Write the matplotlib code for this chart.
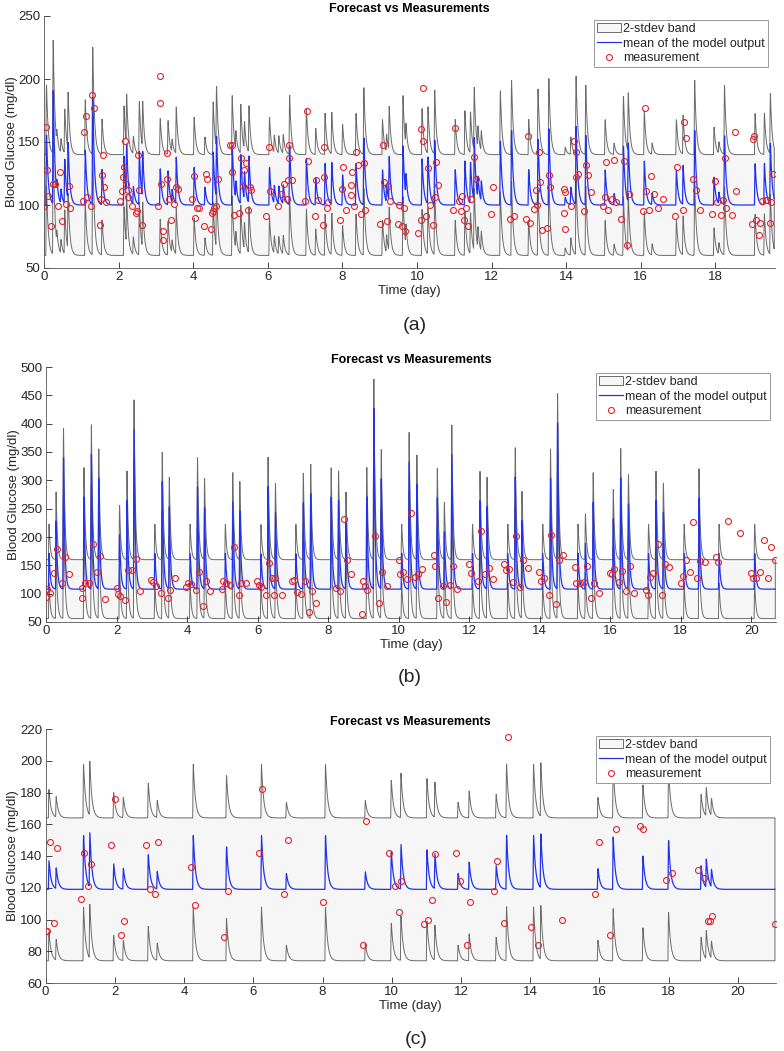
import numpy as np
import matplotlib
matplotlib.use('Agg')
import matplotlib.pyplot as plt
from matplotlib.patches import Patch
from matplotlib.lines import Line2D

plt.rcParams['font.family'] = ['Liberation Sans', 'DejaVu Sans']

# ---------------- Panel (a) data ----------------
a_meal_t = [0.05, 0.23, 0.33, 0.44, 0.54, 0.63, 1.09, 1.29, 1.54, 2.13, 2.2, 2.38, 2.54, 2.63,
            3.1, 3.31, 3.42, 3.53, 4.01, 4.3, 4.52, 4.61, 5.03, 5.13, 5.26, 5.36, 5.48,
            6.03, 6.16, 6.28, 6.4, 6.57, 7.02, 7.27, 7.52, 7.7, 7.99, 8.35, 8.56,
            9.06, 9.17, 9.24, 9.61, 9.69, 10.12, 10.28, 10.46, 11.01, 11.27, 11.42, 11.52,
            11.62, 11.71, 12.22, 12.52, 12.98, 13.23, 13.52, 13.96, 14.11, 14.25, 14.51,
            15.03, 15.27, 15.52, 15.65, 16.08, 16.29, 16.94, 17.12, 17.43, 17.95, 18.08,
            18.23, 19.05, 19.3, 19.46]
a_meal_peak = [156, 190, 110, 111, 135, 145, 144, 185, 128, 139, 140, 114, 142, 137,
               129, 127, 110, 137, 130, 114, 142, 149, 147, 114, 139, 122, 137,
               130, 114, 114, 115, 147, 137, 121, 133, 133, 124, 133, 153,
               128, 114, 135, 147, 117, 137, 137, 151, 128, 135, 133, 150,
               117, 116, 151, 159, 128, 152, 161, 106, 114, 162, 155,
               128, 109, 147, 147, 135, 109, 128, 131, 159, 122, 109,
               155, 133, 133, 148]
a_mean_base = 100
a_band_offset = 40
a_tmax = 19.58
a_meas_t = [0.0, 0.05, 0.07, 0.12, 0.2, 0.25, 0.29, 0.38, 0.44, 0.47, 0.6, 0.67, 0.71,
            1.05, 1.08, 1.12, 1.15, 1.25, 1.3, 1.34, 1.49, 1.53, 1.55, 1.57, 1.61, 1.66,
            2.03, 2.08, 2.12, 2.15, 2.17, 2.2, 2.26, 2.26, 2.35, 2.46, 2.5, 2.53, 2.56, 2.62,
            3.06, 3.12, 3.12, 3.15, 3.2, 3.2, 3.29, 3.29, 3.36, 3.4, 3.49, 3.54, 3.58,
            3.98, 4.01, 4.06, 4.1, 4.15, 4.28, 4.34, 4.36, 4.48, 4.5, 4.54, 4.56, 4.61, 4.67,
            5.0, 5.04, 5.04, 5.09, 5.22, 5.27, 5.33, 5.37, 5.42, 5.47, 5.53, 5.55,
            5.96, 6.03, 6.05, 6.27, 6.35, 6.43, 6.51, 6.54, 6.58, 6.58, 6.64,
            6.99, 7.05, 7.08, 7.26, 7.29, 7.34, 7.49, 7.51, 7.52, 7.58, 7.61,
            7.94, 7.99, 8.02, 8.09, 8.23, 8.24, 8.27, 8.3, 8.36, 8.41, 8.5, 8.57, 8.6,
            9.01, 9.08, 9.11, 9.2, 9.22, 9.27, 9.48, 9.53, 9.59, 9.65, 9.68,
            10.04, 10.1, 10.12, 10.15, 10.17, 10.23, 10.3, 10.35, 10.44, 10.48, 10.52, 10.57,
            10.97, 11.01, 11.12, 11.17, 11.22, 11.27, 11.31, 11.38, 11.46, 11.53, 11.58,
            11.98, 12.03, 12.49, 12.6, 12.93, 12.98, 13.04, 13.14, 13.18, 13.21, 13.26, 13.29,
            13.36, 13.48, 13.53, 13.57, 13.93, 13.93, 13.97, 13.98, 14.12, 14.2, 14.26, 14.27,
            14.31, 14.48, 14.54, 14.58, 14.67,
            15.0, 15.03, 15.07, 15.11, 15.22, 15.28, 15.34, 15.47, 15.56, 15.63, 15.69,
            16.05, 16.11, 16.14, 16.23, 16.28, 16.35, 16.47, 16.61, 16.92, 16.97,
            17.12, 17.17, 17.21, 17.4, 17.49, 17.58, 17.92, 17.99, 18.04, 18.16, 18.2,
            18.25, 18.29, 18.46, 18.52, 18.56, 18.98, 19.02, 19.04, 19.08, 19.17, 19.2,
            19.26, 19.35, 19.39, 19.46, 19.5, 19.55]
a_meas_y = [99, 162, 128, 107, 83, 117, 117, 99, 126, 87, 101, 115, 98,
            103, 158, 171, 106, 99, 187, 177, 84, 105, 124, 140, 114, 102,
            103, 111, 122, 130, 151, 117, 112, 106, 99, 94, 95, 140, 112, 84,
            99, 202, 181, 117, 79, 72, 141, 121, 105, 88, 101, 114, 113,
            105, 123, 90, 98, 98, 83, 125, 121, 81, 94, 95, 98, 99, 121,
            148, 148, 126, 92, 94, 137, 115, 128, 133, 96, 114, 112,
            91, 146, 111, 99, 109, 117, 105, 120, 148, 137, 120,
            103, 175, 135, 91, 120, 104, 84, 122, 146, 98, 102,
            88, 113, 130, 96, 108, 116, 126, 99, 142, 132, 93, 133, 96,
            85, 148, 118, 87, 115, 103, 85, 100, 83, 98, 79,
            78, 88, 160, 193, 151, 91, 129, 100, 84, 106, 134, 116,
            96, 161, 103, 95, 107, 88, 98, 83, 105, 138, 121,
            93, 114, 89, 91, 89, 155, 86, 97, 112, 100, 142, 118,
            80, 82, 124, 114, 113, 94, 81, 110, 99, 151, 142, 122,
            125, 95, 132, 124, 110,
            99, 106, 134, 96, 105, 136, 102, 89, 135, 68, 109,
            95, 177, 111, 96, 123, 109, 98, 105, 91, 130,
            96, 166, 153, 121, 112, 96, 93, 119, 102, 92, 104,
            137, 98, 92, 158, 111, 85, 152, 155, 88, 76, 86,
            103, 104, 104, 86, 102, 125]

# ---------------- Panel (b) data ----------------
b_meal_t = [0.07, 0.27, 0.48, 1.06, 1.27, 1.48, 2.07, 2.28, 2.48, 3.07, 3.28, 3.48,
            4.07, 4.28, 4.48, 5.07, 5.28, 5.48, 6.08, 6.28, 6.49, 7.07, 7.28, 7.49,
            8.07, 8.28, 8.49, 9.08, 9.28, 9.49, 10.07, 10.28, 10.5, 11.08, 11.28, 11.49,
            12.08, 12.29, 12.49, 13.08, 13.29, 13.48, 14.07, 14.29, 14.49, 15.07, 15.28, 15.5,
            16.07, 16.28, 16.5, 17.07, 17.28, 17.49, 18.08, 18.5, 19.07, 20.08]
b_meal_peak = [171, 228, 342, 271, 346, 304, 205, 266, 390, 171, 300, 253,
               171, 289, 253, 171, 262, 247, 171, 289, 243, 171, 262, 276,
               271, 266, 228, 271, 428, 304, 171, 333, 293, 271, 209, 346,
               171, 266, 253, 171, 307, 228, 171, 304, 404, 171, 189, 262,
               234, 304, 258, 171, 266, 243, 171, 271, 171, 171]
b_mean_base = 108
b_band_offset = 52
b_tmax = 20.68
b_meas_t = [0.0, 0.02, 0.11, 0.24, 0.32, 0.45, 0.53, 0.66, 1.01, 1.03, 1.1, 1.23, 1.32, 1.45,
            1.53, 1.66, 2.0, 2.03, 2.1, 2.24, 2.33, 2.45, 2.54, 2.66, 2.98, 3.04, 3.13, 3.25,
            3.45, 3.53, 3.66, 3.98, 4.03, 4.12, 4.25, 4.33, 4.45, 4.53, 4.66, 5.0, 5.02,
            5.1, 5.21, 5.33, 5.47, 5.54, 5.66, 5.99, 6.03, 6.11, 6.25, 6.33, 6.41, 6.47, 6.5,
            6.69, 6.98, 7.04, 7.12, 7.24, 7.34, 7.46, 7.53, 7.67, 8.23, 8.33, 8.45, 8.54,
            8.66, 8.97, 8.99, 9.04, 9.11, 9.33, 9.45, 9.54, 9.67, 10.0, 10.03, 10.12,
            10.24, 10.34, 10.45, 10.55, 10.67, 11.0, 11.04, 11.11, 11.25, 11.33, 11.45,
            11.54, 11.66, 11.99, 12.04, 12.25, 12.34, 12.45, 12.55, 12.67, 12.98, 13.03,
            13.13, 13.24, 13.33, 13.45, 13.54, 13.68, 13.99, 14.04, 14.13, 14.25, 14.33,
            14.47, 14.55, 14.67, 15.0, 15.02, 15.13, 15.25, 15.34, 15.44, 15.55, 15.67,
            15.99, 16.04, 16.12, 16.25, 16.34, 16.46, 16.57, 16.68, 17.02, 17.06, 17.14,
            17.2, 17.35, 17.47, 17.55, 17.68, 18.0, 18.05, 18.14, 18.26, 18.34, 18.46,
            18.55, 18.69, 19.0, 19.05, 19.34, 19.68, 20.0, 20.04, 20.14, 20.25, 20.35,
            20.48, 20.56, 20.67]
b_meas_y = [94, 109, 102, 136, 179, 119, 165, 135, 110, 92, 119, 119, 188, 139,
            166, 91, 110, 100, 96, 89, 141, 141, 161, 104, 124, 121, 113, 101,
            93, 107, 127, 112, 118, 117, 106, 139, 78, 122, 105, 108, 122,
            119, 116, 182, 97, 119, 119, 122, 115, 112, 97, 154, 127, 97, 127,
            97, 122, 124, 103, 100, 122, 68, 104, 84, 110, 104, 231, 159,
            135, 64, 122, 114, 107, 202, 84, 139, 114, 160, 135, 138,
            125, 242, 129, 134, 144, 169, 149, 93, 113, 86, 116,
            148, 108, 153, 137, 122, 211, 134, 146, 125, 152, 141,
            144, 121, 202, 112, 159, 145, 138, 122, 128, 97, 204,
            82, 159, 168, 147, 119, 119, 121, 149, 92, 118, 102,
            137, 135, 144, 121, 140, 105, 149, 102, 106, 97, 129,
            137, 187, 98, 153, 147, 118, 131, 159, 138, 227, 127,
            157, 155, 164, 155, 228, 207, 137, 128, 127, 138, 194,
            127, 182, 159]

# ---------------- Panel (c) data ----------------
c_meal_t = [0.08, 0.29, 1.08, 1.26, 1.95, 2.23, 2.95, 3.21, 4.25, 5.21, 6.22, 6.94,
            8.07, 9.22, 9.97, 10.25, 11.0, 11.23, 11.9, 12.22, 13.0, 13.3, 14.08, 14.29,
            15.94, 16.38, 17.24, 17.98, 18.92, 19.07, 19.22]
c_meal_peak = [137, 132, 153, 153, 135, 132, 141, 130, 153, 146, 153, 129,
               153, 130, 143, 147, 144, 141, 129, 136, 134, 153, 153, 153,
               132, 152, 140, 150, 134, 137, 130]
c_mean_base = 119
c_band_offset = 45
c_tmax = 21.07
c_meas_t = [0.0, 0.03, 0.14, 0.24, 0.32, 1.01, 1.11, 1.22, 1.31, 1.9, 2.0, 2.17, 2.26,
            2.89, 3.01, 3.15, 3.25, 4.19, 4.31, 5.16, 5.28, 6.16, 6.24, 6.89, 6.99, 8.01,
            9.16, 9.26, 9.91, 10.08, 10.2, 10.28, 10.94, 11.04, 11.17, 11.26, 11.85, 11.98,
            12.17, 12.27, 12.94, 13.03, 13.25, 13.35, 14.02, 14.23, 14.92, 15.88, 15.98,
            16.31, 16.47, 17.18, 17.27, 17.91, 18.1, 18.86, 19.02, 19.14, 19.18, 19.26, 21.06]
c_meas_y = [93, 93, 149, 98, 145, 113, 142, 121, 135, 147, 176, 90, 99,
            147, 119, 116, 149, 133, 109, 89, 118, 142, 182, 116, 150, 111,
            84, 162, 142, 121, 105, 124, 97, 100, 112, 141, 142, 124,
            84, 111, 118, 137, 98, 215, 95, 84, 100, 116, 149,
            90, 157, 159, 157, 125, 129, 131, 126, 99, 99, 102, 97]

TXT = '#262626'
BAND_FACE = '#f6f6f6'
BAND_EDGE = '#6b6b6b'
MEAN_C = '#2233ee'
MEAS_C = '#e0262b'


def glucose_curve(t, meal_t, meal_peak, base, rise=0.018, tau=0.045):
    y = np.full_like(t, float(base))
    for tm, pk in zip(meal_t, meal_peak):
        s = t - tm
        amp = pk - base
        g = np.where(s < 0, 0.0,
                     np.where(s < rise, np.sin(0.5 * np.pi * s / rise),
                              np.exp(-(s - rise) / tau)))
        y += amp * g
    return y


def panel(ax, meal_t, meal_peak, base, off, tmax, mt, my, xlim, ylim, yticks, xticks,
          legend_anchor, tau):
    t = np.linspace(0, tmax, 8000)
    mean = glucose_curve(t, meal_t, meal_peak, base, tau=tau)
    up = mean + off
    lo = mean - off
    ax.fill(np.r_[t, t[::-1]], np.r_[up, lo[::-1]], facecolor=BAND_FACE,
            edgecolor=BAND_EDGE, linewidth=0.7, zorder=1)
    ax.plot(t, mean, color=MEAN_C, lw=0.9, zorder=2)
    ax.plot(mt, my, 'o', ms=4.3, mfc='none', mec=MEAS_C, mew=0.8, zorder=3)
    ax.set_xlim(*xlim)
    ax.set_ylim(*ylim)
    ax.set_yticks(yticks)
    ax.set_xticks(xticks)
    for s in ['top', 'right']:
        ax.spines[s].set_visible(False)
    for s in ['left', 'bottom']:
        ax.spines[s].set_color('#555555')
        ax.spines[s].set_linewidth(0.6)
    ax.tick_params(direction='in', length=4, width=0.6, labelsize=9.5, colors=TXT,
                   pad=2.5)
    ax.set_title('Forecast vs Measurements', fontsize=9, fontweight='bold', pad=3,
                 color='black')
    ax.set_xlabel('Time (day)', fontsize=9.5, color=TXT, labelpad=1)
    ax.set_ylabel('Blood Glucose (mg/dl)', fontsize=9.5, color=TXT, labelpad=0.5)
    handles = [Patch(facecolor=BAND_FACE, edgecolor=BAND_EDGE, linewidth=0.7),
               Line2D([], [], color=MEAN_C, lw=0.9),
               Line2D([], [], ls='none', marker='o', ms=4.3, mfc='none', mec=MEAS_C, mew=0.8)]
    labels = ['2-stdev band', 'mean of the model output', 'measurement']
    leg = ax.legend(handles, labels, loc='upper right', bbox_to_anchor=legend_anchor,
                    fontsize=9, frameon=True, fancybox=False, framealpha=1,
                    edgecolor='#999999', borderpad=0.25, labelspacing=0.2,
                    handlelength=1.9, handletextpad=0.2, borderaxespad=0)
    leg.get_frame().set_linewidth(0.7)
    for txt in leg.get_texts():
        txt.set_color(TXT)


fig = plt.figure(figsize=(7.84, 10.51), dpi=100)
W, H = 784.0, 1051.0

def rect(l, t, r, b):
    return [l / W, 1 - b / H, (r - l) / W, (b - t) / H]

ax_a = fig.add_axes(rect(44, 16, 775, 268))
panel(ax_a, a_meal_t, a_meal_peak, a_mean_base, a_band_offset, a_tmax, a_meas_t, a_meas_y,
      (0, 19.6), (50, 250), np.arange(50, 251, 50), np.arange(0, 19, 2),
      ((768 - 44) / 731, 1 - (20 - 16) / 252), 0.045)

ax_b = fig.add_axes(rect(46, 367, 776, 622))
panel(ax_b, b_meal_t, b_meal_peak, b_mean_base, b_band_offset, b_tmax, b_meas_t, b_meas_y,
      (0, 20.7), (50, 500), np.arange(50, 501, 50), np.arange(0, 21, 2),
      ((770 - 46) / 730, 1 - (373 - 367) / 255), 0.035)

ax_c = fig.add_axes(rect(45.6, 729, 776, 983))
panel(ax_c, c_meal_t, c_meal_peak, c_mean_base, c_band_offset, c_tmax, c_meas_t, c_meas_y,
      (0, 21.1), (60, 220), np.arange(60, 221, 20), np.arange(0, 21, 2),
      ((770 - 45.6) / 730.4, 1 - (736 - 729) / 254), 0.06)

fig.text(415 / W, 1 - 326 / H, '(a)', ha='center', va='center', fontsize=14, color=TXT)
fig.text(410 / W, 1 - 677 / H, '(b)', ha='center', va='center', fontsize=14, color=TXT)
fig.text(416 / W, 1 - 1040 / H, '(c)', ha='center', va='center', fontsize=14, color=TXT)

fig.savefig('out.png', dpi=100)
